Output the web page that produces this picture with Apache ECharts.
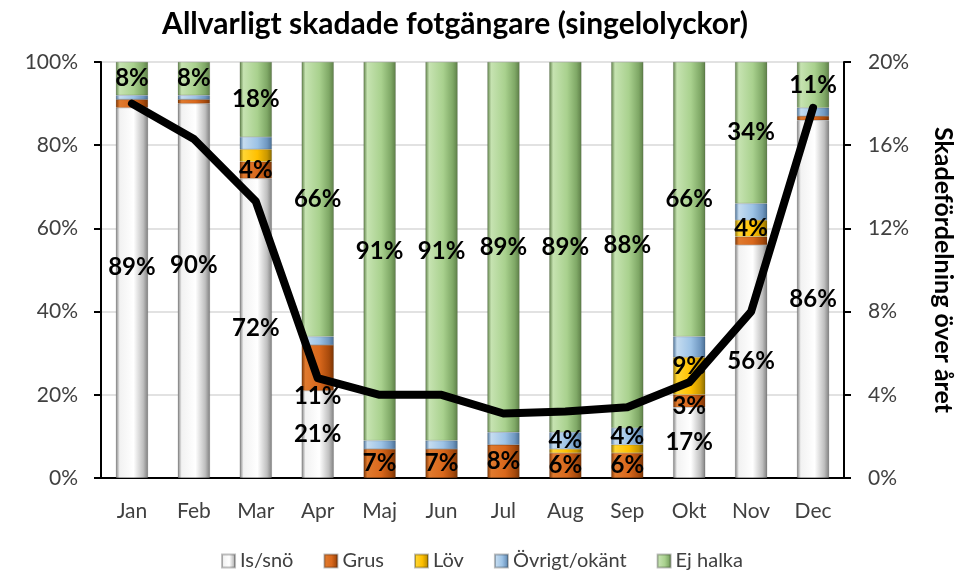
<!DOCTYPE html>
<html lang="sv">
<head>
<meta charset="UTF-8">
<title>Allvarligt skadade fotgängare</title>
<script src="https://cdn.jsdelivr.net/npm/echarts@6/dist/echarts.min.js"></script>
<style>
  html, body { margin: 0; padding: 0; background: #fff; }
  #main { width: 964px; height: 576px; }
</style>
</head>
<body>
<div id="main"></div>
<script>
// månader och andelar (%) per halkorsak
var months  = ['Jan', 'Feb', 'Mar', 'Apr', 'Maj', 'Jun', 'Jul', 'Aug', 'Sep', 'Okt', 'Nov', 'Dec'];
var isSno   = [89, 90, 72, 21, 0, 0, 0, 0, 0, 17, 56, 86];
var grus    = [2, 1, 4, 11, 7, 7, 8, 6, 6, 3, 2, 1];
var lov     = [0, 0, 3, 0, 0, 0, 0, 1, 2, 9, 4, 0];
var ovrigt  = [1, 1, 3, 2, 2, 2, 3, 4, 4, 5, 4, 2];
var ejHalka = [8, 8, 18, 66, 91, 91, 89, 89, 88, 66, 34, 11];
// skadefördelning över året (höger axel, %)
var fordelning = [18.0, 16.3, 13.3, 4.8, 4.0, 4.0, 3.1, 3.2, 3.4, 4.6, 8.0, 17.8];
var leftTicks  = [0, 20, 40, 60, 80, 100];
var rightTicks = [0, 4, 8, 12, 16, 20];
// etiketter som inte visas i originalet
var hiddenLabels = ['Mar|Löv', 'Mar|Övrigt/okänt', 'Jul|Övrigt/okänt', 'Okt|Övrigt/okänt', 'Nov|Övrigt/okänt'];
// etiketter som är flyttade i originalet (px)
var labelOffsets = {'Jan|Is/snö': [0, -26], 'Feb|Is/snö': [0, -26], 'Apr|Grus': [0, 29], 'Okt|Löv': [0, -10], 'Okt|Grus': [0, 5]};

var FONT = 'Lato, "Open Sans", sans-serif';

function cyl(edge, light, mid, dark) {
    return new echarts.graphic.LinearGradient(0, 0, 1, 0, [
        {offset: 0, color: edge},
        {offset: 0.12, color: light},
        {offset: 0.55, color: mid},
        {offset: 0.85, color: dark},
        {offset: 1, color: edge}
    ]);
}

function barSeries(name, values, fill) {
    var data = values.map(function (v, i) {
        var off = labelOffsets[months[i] + '|' + name];
        return off ? {value: v, label: {offset: off}} : v;
    });
    return {
        name: name,
        type: 'bar',
        stack: 'andel',
        barWidth: '52%',
        data: data,
        itemStyle: {color: fill, borderColor: 'rgba(0,0,0,0.25)', borderWidth: 0.5},
        label: {
            show: true,
            position: 'inside',
            color: '#000',
            fontFamily: FONT,
            fontWeight: 'bold',
            fontSize: 24,
            formatter: function (p) {
                if (p.value < 3) return '';
                if (hiddenLabels.indexOf(p.name + '|' + name) >= 0) return '';
                return p.value + '%';
            }
        },
        emphasis: {disabled: true}
    };
}

var chart = echarts.init(document.getElementById('main'));

var option = {
    animation: false,
    title: {
        text: 'Allvarligt skadade fotgängare (singelolyckor)',
        left: 450,
        textAlign: 'center',
        top: 4,
        textStyle: {fontFamily: FONT, fontWeight: 'bold', fontSize: 30, color: '#000'}
    },
    grid: {left: 101, right: 115, top: 62, bottom: 98},
    legend: {
        bottom: 0,
        left: 'center',
        itemWidth: 13,
        itemHeight: 13,
        itemGap: 30,
        icon: 'rect',
        data: ['Is/snö', 'Grus', 'Löv', 'Övrigt/okänt', 'Ej halka'],
        textStyle: {fontFamily: FONT, fontSize: 20, color: '#404040'}
    },
    xAxis: {
        type: 'category',
        data: months,
        axisLine: {lineStyle: {color: '#000', width: 2}},
        axisTick: {show: false},
        axisLabel: {fontFamily: FONT, fontSize: 21, color: '#404040', margin: 23}
    },
    yAxis: [{
        type: 'value',
        min: leftTicks[0],
        max: leftTicks[leftTicks.length - 1],
        interval: 20,
        axisLine: {show: true, lineStyle: {color: '#000', width: 2}},
        axisTick: {show: true, length: 7, lineStyle: {color: '#000', width: 2}},
        splitLine: {lineStyle: {color: '#d9d9d9', width: 1.5}},
        axisLabel: {formatter: '{value}%', fontFamily: FONT, fontSize: 21, color: '#404040', margin: 23}
    }, {
        type: 'value',
        min: rightTicks[0],
        max: rightTicks[rightTicks.length - 1],
        interval: 4,
        position: 'right',
        name: 'Skadefördelning över året',
        nameLocation: 'middle',
        nameRotate: -90,
        nameGap: 87,
        nameTextStyle: {fontFamily: FONT, fontWeight: 'bold', fontSize: 25, color: '#000'},
        axisLine: {show: true, lineStyle: {color: '#000', width: 2}},
        axisTick: {show: true, length: 7, lineStyle: {color: '#000', width: 2}},
        splitLine: {show: false},
        axisLabel: {formatter: '{value}%', fontFamily: FONT, fontSize: 21, color: '#404040', margin: 24}
    }],
    series: [
        barSeries('Is/snö', isSno, cyl('#7f7f7f', '#f2f2f2', '#ffffff', '#bfbfbf')),
        barSeries('Grus', grus, cyl('#7a3505', '#e07a2e', '#d9681c', '#a84a0c')),
        barSeries('Löv', lov, cyl('#8a6d00', '#ffd633', '#ffc000', '#c99700')),
        barSeries('Övrigt/okänt', ovrigt, cyl('#4a6f94', '#c5dcf0', '#9dc3e6', '#6f97c0')),
        barSeries('Ej halka', ejHalka, cyl('#5e7f48', '#c6e3b1', '#a9d18e', '#7fa866')),
        {
            name: 'Fördelning',
            type: 'line',
            yAxisIndex: 1,
            data: fordelning,
            symbol: 'none',
            z: 10,
            lineStyle: {color: '#000', width: 8, join: 'round', cap: 'round'},
            emphasis: {disabled: true}
        }
    ],
    color: ['#e6e6e6', '#c55a11', '#ffc000', '#8fb4de', '#a9d18e', '#000']
};

chart.setOption(option);
</script>
</body>
</html>
